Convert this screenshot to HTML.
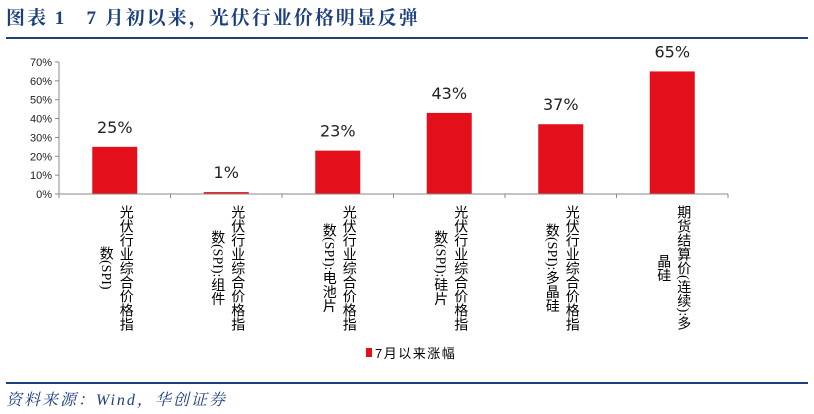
<!DOCTYPE html>
<html><head><meta charset="utf-8"><style>
body{margin:0;background:#fff;width:814px;height:414px;overflow:hidden;position:relative;font-family:"Liberation Sans","Noto Sans CJK SC",sans-serif}
.title{position:absolute;left:6px;top:3px;font-family:"Liberation Serif","Noto Serif CJK SC",serif;font-weight:bold;font-size:19px;color:#1c3f7f;letter-spacing:2px}
.hl{position:absolute;left:6px;width:802px;background:#1c3f7f}
.src{position:absolute;left:6px;top:387px;font-family:"Liberation Serif","Noto Serif CJK SC",serif;font-style:italic;font-size:16px;color:#1c3f7f;letter-spacing:2px}
.lab{position:absolute;top:193px;writing-mode:vertical-rl;font-size:14px;line-height:20px;color:#000;text-align:center;height:150px;font-family:"Liberation Serif","Noto Sans CJK SC",serif}
</style></head><body>
<div class="title">图表 1&nbsp;&nbsp;&nbsp;7 月初以来，光伏行业价格明显反弹</div>
<div class="hl" style="top:37px;height:2px"></div>
<svg id="chart" width="814" height="414" style="position:absolute;left:0;top:0"></svg>
<div id="labels"></div>
<div class="hl" style="top:382px;height:2px"></div>
<div class="src">资料来源：Wind，华创证券</div>
<script>
const categories=[["光伏行业综合价格指","数(SPI)"],["光伏行业综合价格指","数(SPI):组件"],["光伏行业综合价格指","数(SPI):电池片"],["光伏行业综合价格指","数(SPI):硅片"],["光伏行业综合价格指","数(SPI):多晶硅"],["期货结算价(连续):多","晶硅"]];
const values=[25,1,23,43,37,65];
const valueLabels=["25%","1%","23%","43%","37%","65%"];
const yTicks=[0,10,20,30,40,50,60,70];
const seriesName="7月以来涨幅";
const NS="http://www.w3.org/2000/svg";
const svg=document.getElementById('chart');
const x0=59,x1=728,y0=194,y1=62,yMax=70;
const n=categories.length,cw=(x1-x0)/n,bw=45;
const ys=v=>y0-(v/yMax)*(y0-y1);
const xc=i=>x0+cw*(i+0.5);
function mk(t,a){const e=document.createElementNS(NS,t);for(const k in a)e.setAttribute(k,a[k]);svg.appendChild(e);return e;}
yTicks.forEach(t=>{
 const tk=mk('line',{x1:x0-4,x2:x0,y1:ys(t),y2:ys(t),stroke:'#888'});
 
 
 const tx=mk('text',{x:x0-7,y:ys(t)+4,'text-anchor':'end','font-size':11,fill:'#222','font-family':'Liberation Sans'});
 tx.textContent=t+'%';
 
 
});
const ya=mk('line',{x1:x0,x2:x0,y1:y1,y2:y0,stroke:'#888'});


values.forEach((v,i)=>{
 const r=mk('rect',{x:xc(i)-bw/2,y:ys(v),width:bw,height:y0-ys(v),fill:'#e3101c'});
 
 
 const t=mk('text',{x:xc(i),y:ys(v)-14,'text-anchor':'middle','font-size':16,fill:'#222','font-family':'DejaVu Sans'});
 t.textContent=valueLabels[i];
 
 
});
for(let i=0;i<=n;i++){
 const tk=mk('line',{x1:x0+cw*i,x2:x0+cw*i,y1:y0,y2:y0+4,stroke:'#888'});
 
 
}
const xa=mk('line',{x1:x0,x2:x1,y1:y0,y2:y0,stroke:'#888'});


const L=document.getElementById('labels');
categories.forEach((c,i)=>{
 const d=document.createElement('div');
 d.className='lab';
 d.style.left=(xc(i)-20)+'px';
 d.innerHTML=c[0]+'<br>'+c[1];
 
 
 L.appendChild(d);
});
const lr=mk('rect',{x:366,y:348,width:6,height:9,fill:'#e3101c'});


const lt=mk('text',{x:375,y:358,'font-size':13,'letter-spacing':1.5,fill:'#000','font-family':'Liberation Sans, Noto Sans CJK SC, sans-serif'});
lt.textContent=seriesName;


</script>
</body></html>
